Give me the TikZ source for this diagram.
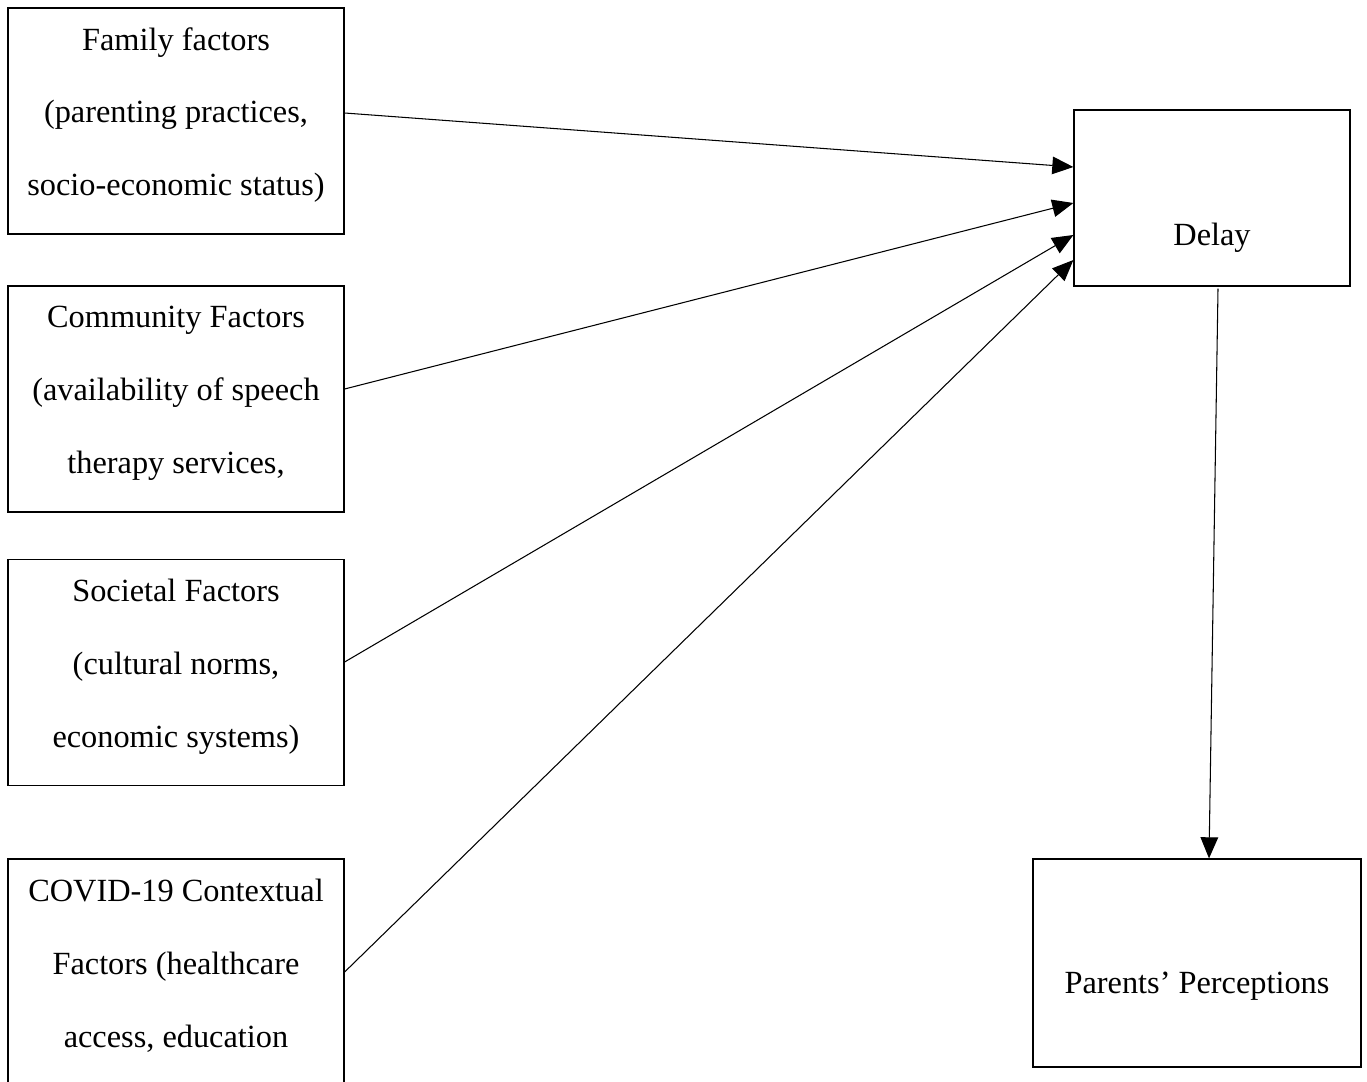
\documentclass[tikz,border=0pt]{standalone}
\usepackage{fontspec}
\setmainfont{Liberation Serif}
\usetikzlibrary{arrows.meta, positioning}
\tikzset{
  >={Triangle[length=12pt, width=10pt]},
  %
  box/.style={draw=black, line width=0.7pt, fill=white, inner sep=0pt,
              minimum width=6.72cm, minimum height=4.52cm},
  txt/.style={font=\fontsize{18.4pt}{41.5pt}\selectfont, align=center,
              inner sep=0pt, text=black},
  %
  link/.style={draw=black, line width=0.6pt, ->},
}
\begin{document}
\begin{tikzpicture}[x=1cm, y=1cm]
  \useasboundingbox (0,0) rectangle (27.34,-21.62);
  \clip (0,0) rectangle (27.34,-21.62);

  % factor boxes on the left
  \node[box] (fam) at (3.52,-2.42)  {};
  \node[box] (com) at (3.52,-7.98)  {};
  \node[box] (soc) at (3.52,-13.45) {};
  \node[box] (cov) at (3.52,-19.44) {};

  \foreach \b/\t in {
      fam/{Family factors\\(parenting practices,\\socio-economic status)},
      com/{Community Factors\\(availability of speech\\therapy services,},
      soc/{Societal Factors\\(cultural norms,\\economic systems)},
      cov/{COVID-19 Contextual\\Factors (healthcare\\access, education}} {
    \node[txt] (\b txt) at ([yshift=0.12cm]\b.center) {\t};
  }

  % outcome boxes on the right
  \node[box, minimum width=5.52cm, minimum height=3.52cm] (delay) at (24.24,-3.96) {};
  \node[txt] (delaytxt) at ([yshift=-0.79cm]delay.center) {Delay};

  \node[box, minimum width=6.56cm, minimum height=4.16cm] (par) at (23.94,-19.26) {};
  \node[txt] (partxt) at ([yshift=-0.47cm]par.center) {Parents' Perceptions};

  % links
  \draw[link] ([yshift=0.16cm]fam.east) -- ([yshift=0.62cm]delay.west);
  \draw[link] ([yshift=0.20cm]com.east) -- ([yshift=-0.10cm]delay.west);
  \draw[link] ([yshift=0.21cm]soc.east) -- ([yshift=-0.74cm]delay.west);
  \draw[link] (cov.east) -- ([yshift=-1.24cm]delay.west);
  \draw[link] ([xshift=0.12cm, yshift=-0.04cm]delay.south) -- ([xshift=0.24cm]par.north);

\end{tikzpicture}
\end{document}
